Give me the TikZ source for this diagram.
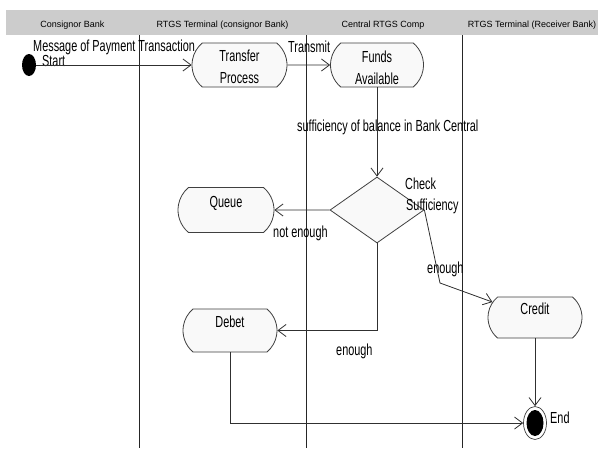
\documentclass[tikz,border=0pt]{standalone}
\usepackage{fontspec}
\setmainfont{Liberation Sans}[FakeStretch=0.68]
\newfontfamily\hdrfont{Liberation Sans}
\usetikzlibrary{shapes.misc,shapes.geometric,arrows.meta}
\definecolor{hdrgray}{HTML}{CCCCCC}
\definecolor{actfill}{HTML}{F9F9F9}
\definecolor{lnclr}{HTML}{303030}
\tikzset{
  hdr/.style={font=\hdrfont\fontsize{9}{11}\selectfont, anchor=base, inner sep=0},
  lbl/.style={font=\fontsize{16}{22}\selectfont, anchor=base west, inner sep=0},
  acttext/.style={font=\fontsize{16}{22}\selectfont, align=center, inner sep=0},
  act/.style 2 args={rounded rectangle, rounded rectangle arc length=100,
    draw=black!75, fill=actfill, line width=0.8pt, inner sep=0,
    minimum width=#1, minimum height=#2},
  decision/.style={diamond, draw=black!75, fill=actfill, line width=0.8pt,
    inner sep=0, minimum width=94pt, minimum height=66pt},
  startn/.style={ellipse, fill=black, inner sep=0, minimum width=14pt, minimum height=22pt},
  endnode/.style={ellipse, draw=black!75, line width=0.7pt, inner sep=0,
    minimum width=23pt, minimum height=33pt,
    path picture={\fill[black] (path picture bounding box.center) ellipse [x radius=8.5pt, y radius=13pt];}},
  conn/.style={draw=lnclr, line width=0.8pt, -{Straight Barb[length=8pt,width=12pt]}},
  lane/.style={draw=black!85, line width=0.8pt}
}
\begin{document}
\begin{tikzpicture}[x=1pt,y=-1pt]
\fill[white] (0,0) rectangle (599,448);
\useasboundingbox (0,0) rectangle (599,448);
% header band
\fill[hdrgray] (6,10) rectangle (598,35);
\node[hdr] (h1) at (72.5,27) {Consignor Bank};
\node[hdr] (h2) at (222.5,27) {RTGS Terminal (consignor Bank)};
\node[hdr] (h3) at (383,27) {Central RTGS Comp};
\node[hdr] (h4) at (532,27) {RTGS Terminal (Receiver Bank)};
% lanes
\draw[lane] (139,35) -- (139,448);
\draw[lane] (306,35) -- (306,448);
\draw[lane] (462,35) -- (462,448);
% nodes
\node[startn] (start) at (29,65) {};
\node[act={95pt}{44pt}, label={[acttext,yshift=-2pt]center:{Transfer\\Process}}] (transfer) at (239.5,65) {};
\node[act={93pt}{44pt}, label={[acttext,yshift=-2.3pt]center:{Funds\\Available}}] (funds) at (377,65) {};
\node[decision] (dia) at (377,210) {};
\node[act={96pt}{45pt}, label={[acttext,yshift=7pt]center:{Queue}}] (queue) at (226,210) {};
\node[act={94pt}{43pt}, label={[acttext,yshift=8.5pt]center:{Debet}}] (debet) at (230,330.5) {};
\node[act={94pt}{41pt}, label={[acttext,yshift=9pt]center:{Credit}}] (credit) at (535,317.5) {};
\node[endnode] (endn) at (535,423) {};
% free labels
\node[lbl] (lmsg) at (33,51) {Message of Payment Transaction};
\node[lbl] (lstart) at (42,66) {Start};
\node[lbl] (ltrans) at (288,52) {Transmit};
\node[lbl] (lsuff) at (297,131) {sufficiency of balance in Bank Central};
\node[lbl] (lcheck) at (405,189) {Check};
\node[lbl] (lsuff2) at (406,210) {Sufficiency};
\node[lbl] (lnot) at (273,237) {not enough};
\node[lbl] (len1) at (336,355) {enough};
\node[lbl] (len2) at (427,273) {enough};
\node[lbl] (lend) at (550,423) {End};
% connectors
\coordinate (bend) at (440,283);
\draw[conn] (start) -- (transfer);
\draw[conn] (transfer) -- (funds);
\draw[conn] (funds) -- (dia);
\draw[conn] (dia) -- (queue);
\draw[conn] (dia.south) |- (debet);
\draw[conn] (dia.east) -- (bend) -- (credit);
\draw[conn] (credit) -- (endn);
\draw[conn] (debet.south) |- (endn);
\end{tikzpicture}
\end{document}
